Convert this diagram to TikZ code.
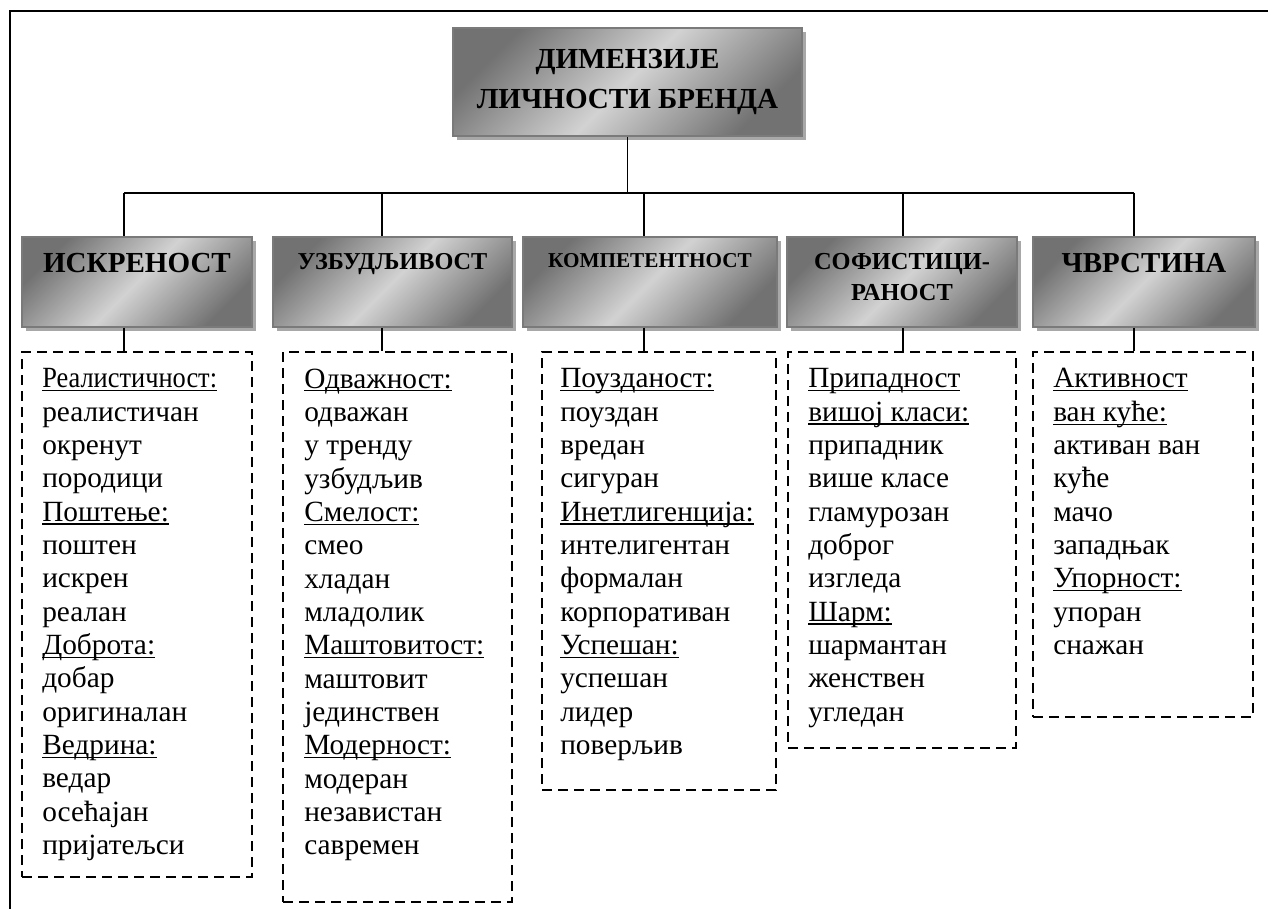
\documentclass[tikz,border=0pt]{standalone}
\usepackage{graphicx}
\usepackage{fontspec}
\setmainfont{Liberation Serif}
\usetikzlibrary{positioning,shadows}
\definecolor{BoxDark}{HTML}{727272}
\definecolor{BoxLight}{HTML}{D2D2D2}
\definecolor{BoxEdge}{HTML}{7A7A7A}
\definecolor{Shade}{HTML}{A8A8A8}
\newlength{\ulwd}
\newcommand{\ulhead}[1]{\settowidth{\ulwd}{#1}\rlap{\rule[-2.6pt]{\ulwd}{0.9pt}}#1}
\tikzset{
  conn/.style={line width=1.4pt,draw=black},
  frameline/.style={line width=1.5pt,draw=black},
  shadebox/.style={draw=BoxEdge,line width=1.2pt,left color=BoxDark,right color=BoxDark,middle color=BoxLight,shading angle=45,drop shadow={shadow xshift=3pt,shadow yshift=-3pt,fill=Shade,opacity=1}},
  catbox/.style={shadebox,minimum height=67.5pt,inner sep=0pt},
  catlabel/.style={anchor=north,align=center,inner sep=0pt,yshift=-12.75pt},
  listbox/.style={draw=black,line width=1.5pt,dash pattern=on 7.5pt off 4.5pt,inner sep=0pt},
  listtext/.style={align=left,inner sep=0pt,font=\fontsize{22}{25}\selectfont}
}
\begin{document}
\begin{tikzpicture}[x=0.75pt,y=-0.75pt]
  \useasboundingbox (0,0) rectangle (1268,909);
  \draw[frameline] (9.5,909) |- (1268,11.5);
  \node[shadebox,minimum width=261.75pt,minimum height=81pt,align=center,font=\bfseries\fontsize{21.8}{30}\selectfont] (title) at (627.5,82) {ДИМЕНЗИЈЕ\\ЛИЧНОСТИ БРЕНДА};
  % dimensions
  \node[catbox,minimum width=172.5pt,label={[catlabel,font={\bfseries\fontsize{21.8}{26}\selectfont}]north:ИСКРЕНОСТ}] (iskrenost) at (137,282) {};
  \node[catbox,minimum width=179.25pt,label={[catlabel,font={\bfseries\fontsize{18.2}{22}\selectfont}]north:УЗБУДЉИВОСТ}] (uzbudljivost) at (392.5,282) {};
  \node[catbox,minimum width=190.5pt,label={[catlabel,font={\bfseries\fontsize{15.9}{19}\selectfont}]north:КОМПЕТЕНТНОСТ}] (kompetentnost) at (650,282) {};
  \node[catbox,minimum width=172.5pt,label={[catlabel,font={\bfseries\fontsize{18.3}{23}\selectfont}]north:{СОФИСТИЦИ-\\РАНОСТ}}] (sofisticiranost) at (902,282) {};
  \node[catbox,minimum width=166.5pt,label={[catlabel,font={\bfseries\fontsize{21.7}{26}\selectfont}]north:ЧВРСТИНА}] (cvrstina) at (1144,282) {};
  % trait lists
  \node[listbox,minimum width=172.5pt,minimum height=393.75pt] (isklist) at (137,614.5) {};
  \node[listbox,minimum width=171.75pt,minimum height=412.5pt] (uzblist) at (397.5,627) {};
  \node[listbox,minimum width=175.5pt,minimum height=328.5pt] (komplist) at (659,571) {};
  \node[listbox,minimum width=171pt,minimum height=297pt] (soflist) at (902,550) {};
  \node[listbox,minimum width=165pt,minimum height=273.75pt] (cvrlist) at (1143,534.5) {};
  \node[listtext,below right=13pt and 15.75pt of isklist.north west] (isktext) {\ulhead{\scalebox{0.9}[1]{Реалистичност:}}\\реалистичан\\окренут\\породици\\\ulhead{Поштење:}\\поштен\\искрен\\реалан\\\ulhead{Доброта:}\\добар\\оригиналан\\\ulhead{Ведрина:}\\ведар\\осећајан\\пријатељси};
  \node[listtext,below right=13pt and 16.5pt of uzblist.north west] (uzbtext) {\ulhead{Одважност:}\\одважан\\у тренду\\узбудљив\\\ulhead{Смелост:}\\смео\\хладан\\младолик\\\ulhead{Маштовитост:}\\маштовит\\јединствен\\\ulhead{Модерност:}\\модеран\\независтан\\савремен};
  \node[listtext,below right=13pt and 14.25pt of komplist.north west] (komptext) {\ulhead{Поузданост:}\\поуздан\\вредан\\сигуран\\\ulhead{Инетлигенција:}\\интелигентан\\формалан\\корпоративан\\\ulhead{Успешан:}\\успешан\\лидер\\поверљив};
  \node[listtext,below right=13pt and 15.75pt of soflist.north west] (softext) {\ulhead{Припадност}\\\ulhead{вишој класи:}\\припадник\\више класе\\гламурозан\\доброг\\изгледа\\\ulhead{Шарм:}\\шармантан\\женствен\\угледан};
  \node[listtext,below right=13pt and 15.75pt of cvrlist.north west] (cvrtext) {\ulhead{Активност}\\\ulhead{ван куће:}\\активан ван\\куће\\мачо\\западњак\\\ulhead{Упорност:}\\упоран\\снажан};
  % connectors
  \coordinate (bus1) at (124,193); \coordinate (bus2) at (382,193); \coordinate (bus3) at (644,193); \coordinate (bus4) at (903,193); \coordinate (bus5) at (1134,193);
  \draw[conn] (title.south) -- (title.south |- bus1); \draw[conn] (bus1) -- (bus5);
  \draw[conn] (bus1) -- (bus1 |- iskrenost.north); \draw[conn] (bus1 |- iskrenost.south) -- (bus1 |- isklist.north);
  \draw[conn] (bus2) -- (bus2 |- uzbudljivost.north); \draw[conn] (bus2 |- uzbudljivost.south) -- (bus2 |- uzblist.north);
  \draw[conn] (bus3) -- (bus3 |- kompetentnost.north); \draw[conn] (bus3 |- kompetentnost.south) -- (bus3 |- komplist.north);
  \draw[conn] (bus4) -- (bus4 |- sofisticiranost.north); \draw[conn] (bus4 |- sofisticiranost.south) -- (bus4 |- soflist.north);
  \draw[conn] (bus5) -- (bus5 |- cvrstina.north); \draw[conn] (bus5 |- cvrstina.south) -- (bus5 |- cvrlist.north);
\end{tikzpicture}
\end{document}
